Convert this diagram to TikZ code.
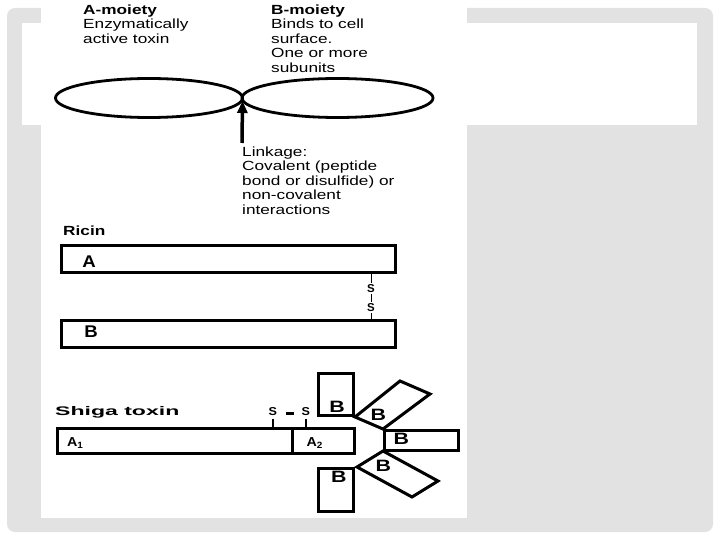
\documentclass[tikz,border=0pt]{standalone}
\usepackage{fontspec}
\setmainfont{Liberation Sans}
\newfontfamily\wfont[FakeStretch=1.3]{Liberation Sans}
\newfontfamily\shfont[FakeStretch=1.85]{Liberation Sans}
\newfontfamily\bfont[FakeStretch=1.3]{Liberation Sans}
\newfontfamily\afont[FakeStretch=1.1]{Liberation Sans}
\usetikzlibrary{arrows.meta,shapes.geometric}
\definecolor{bggray}{RGB}{226,226,226}
\begin{document}
\begin{tikzpicture}[x=1bp,y=-1bp,
  txt/.style={anchor=north west, inner sep=0pt, align=left, font=\wfont\fontsize{13.3}{14.6}\selectfont},
  lobe/.style={ellipse, draw, line width=2.8bp, inner sep=0pt, outer sep=0pt},
  bar/.style={draw, line width=3bp, inner sep=0pt, outer sep=0pt, anchor=north west},
  bl/.style={draw, line width=3bp},
  rlbl/.style={inner sep=0pt, font=\afont\bfseries\fontsize{17}{17}\selectfont},
  blbl/.style={inner sep=0pt, font=\bfont\bfseries\fontsize{16.5}{16.5}\selectfont},
  alabel/.style={inner sep=0pt, anchor=base west, font=\afont\bfseries\fontsize{13}{13}\selectfont},
  sl/.style={inner xsep=1bp, inner ysep=1.2bp, fill=white, font=\bfseries\fontsize{11.5}{11.5}\selectfont},
  sl2/.style={inner sep=0pt, font=\afont\bfseries\fontsize{11.5}{11.5}\selectfont},
]
\useasboundingbox (0,0) rectangle (720,540);
\fill[white] (0,0) rectangle (720,540);
\fill[bggray, rounded corners=8bp] (7,8) rectangle (713,532);
\fill[white] (22,23) rectangle (697,125);
\fill[white] (41,0) rectangle (467,518);

% top general scheme
\node[txt] (atext) at (83,4.5) {\textbf{A-moiety}\\Enzymatically\\active toxin};
\node[txt] (btext) at (271,4.5) {\textbf{B-moiety}\\Binds to cell\\surface.\\One or more\\subunits};
\node[lobe, minimum width=187bp, minimum height=39bp] (amol) at (149,98) {};
\node[lobe, minimum width=191bp, minimum height=39bp] (bmol) at (337.5,98) {};
\coordinate (lk) at (242,143);
\draw[line width=3.5bp, -{Triangle[width=10bp,length=12bp]}] (lk) -- ([yshift=-3bp]amol.east);
\node[txt] (link) at (242,146.5) {Linkage:\\Covalent (peptide\\bond or disulfide) or\\non-covalent\\interactions};

% Ricin
\node[txt, font=\wfont\bfseries\fontsize{13.3}{14}\selectfont] (ricin) at (63,225.5) {Ricin};
\node[bar, minimum width=334bp, minimum height=26.5bp] (ricA) at (61,245.5) {};
\node[bar, minimum width=334bp, minimum height=27bp] (ricB) at (61,320) {};
\node[rlbl] (la) at (89,261.3) {A};
\node[rlbl] (lb) at (91,332) {B};
\coordinate (ssx) at (371,300);
\draw[line width=0.9bp] (ricA.south -| ssx) -- (ricB.north -| ssx);
\node[sl] (rs1) at (371,288.3) {S};
\node[sl] (rs2) at (371,307.3) {S};

% Shiga toxin
\node[txt, font=\shfont\bfseries\fontsize{12.5}{12.5}\selectfont] (shiga) at (55,406.5) {Shiga toxin};
\node[bar, minimum width=234.5bp, minimum height=25bp] (a1) at (57.5,428.5) {};
\node[bar, minimum width=62.5bp, minimum height=25bp] (a2) at (292,428.5) {};
\node[alabel] (la1) at (67,446.5) {A\textsubscript{1}};
\node[alabel] (la2) at (306.5,446.5) {A\textsubscript{2}};
\node[sl2] (s1) at (272.7,411.7) {S};
\node[sl2] (s2) at (305.7,411.7) {S};
\draw[line width=2bp] ([yshift=-3.5bp]s1.south) -- (s1 |- a1.north);
\draw[line width=2bp] ([yshift=-3.5bp]s2.south) -- (s2 |- a2.north);
\draw[line width=2.7bp, shorten <=9bp, shorten >=7bp] ([yshift=-2bp]s1.east) -- ([yshift=-2bp]s2.west);

% B pentamer
\draw[bl] (318.5,373.5) rectangle (353.5,415.5);
\draw[bl] (355,417) -- (400,381) -- (430,394) -- (383,429) -- cycle;
\draw[bl] (384.5,430.5) rectangle (458.5,450.5);
\draw[bl] (357,467) -- (383,451) -- (438,481) -- (412,497) -- cycle;
\draw[bl] (318.5,468.5) rectangle (353.5,511.5);
\node[blbl] (b1) at (337,406.7) {B};
\node[blbl] (b2) at (378.3,415) {B};
\node[blbl] (b3) at (401.3,439) {B};
\node[blbl] (b4) at (383.3,465.8) {B};
\node[blbl] (b5) at (338.8,476.7) {B};
\end{tikzpicture}
\end{document}
